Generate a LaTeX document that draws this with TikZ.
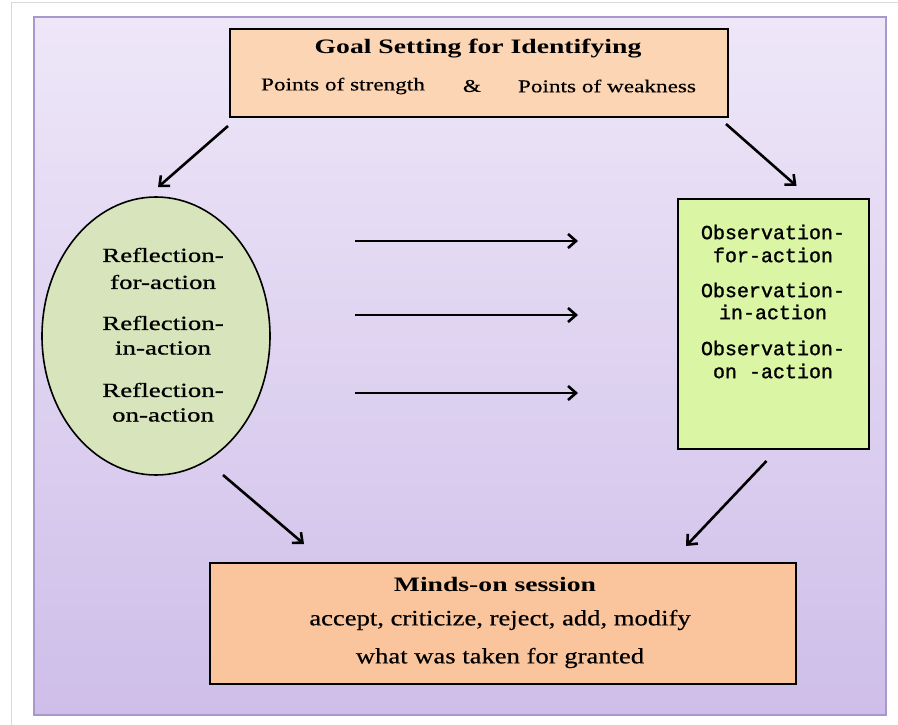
\documentclass[tikz,border=0pt]{standalone}
\usepackage{fontspec}
\setmainfont{Liberation Serif}
\newfontfamily\fTitle[FakeStretch=1.35]{Liberation Serif}
\newfontfamily\fPts[FakeStretch=1.29,FakeBold=0.4]{Liberation Serif}
\newfontfamily\fBody[FakeStretch=1.21,FakeBold=0.4]{Liberation Serif}
\newfontfamily\fRefl[FakeStretch=1.35,FakeBold=0.8]{Liberation Serif}
\newfontfamily\fMono[FakeBold=1.2]{Liberation Mono}
\usetikzlibrary{arrows.meta,shapes.geometric}
\definecolor{lavtop}{HTML}{EEE7F8}
\definecolor{lavbot}{HTML}{CEBEE9}
\definecolor{lavedge}{HTML}{A898CC}
\definecolor{peachA}{HTML}{FCD5B4}
\definecolor{peachB}{HTML}{FAC59D}
\definecolor{sage}{HTML}{D7E4BC}
\definecolor{lime}{HTML}{DAF5A4}
\tikzset{
  boxA/.style={draw=black, line width=2pt, fill=peachA, inner sep=0pt},
  boxB/.style={draw=black, line width=2pt, fill=peachB, inner sep=0pt},
  obsbox/.style={draw=black, line width=2pt, fill=lime, inner sep=0pt},
  reflshape/.style={ellipse, draw=black, line width=1.6pt, fill=sage, inner sep=0pt},
  arr/.style={line width=2.6pt, -{Straight Barb[length=8pt,width=14pt]}},
  ttl/.style={font=\fTitle\bfseries\fontsize{20.5}{24}\selectfont, inner sep=0pt},
  pts/.style={font=\fPts\fontsize{18}{22}\selectfont, inner sep=0pt},
  bod/.style={font=\fBody\fontsize{22}{26}\selectfont, inner sep=0pt},
  rtx/.style={font=\fRefl\fontsize{20}{24}\selectfont, inner sep=0pt},
  mtx/.style={font=\fMono\fontsize{20}{24}\selectfont, inner sep=0pt}
}
\begin{document}
\begin{tikzpicture}[x=1pt,y=-1pt]
\useasboundingbox (0,0) rectangle (898,725);
\fill[white] (0,0) rectangle (898,725);
\draw[black!15, line width=1pt] (11,725) -- (11,3) -- (898,3);
\shade[top color=lavtop, bottom color=lavbot, draw=lavedge, line width=1.2pt] (34,17) rectangle (886,715);

% boxes
\node[boxA, minimum width=498pt, minimum height=88pt] (goal) at (479,73) {};
\node[reflshape, minimum width=228pt, minimum height=278pt] (refl) at (156,336) {};
\node[obsbox, minimum width=191pt, minimum height=250pt] (obs) at (773.5,324) {};
\node[boxB, minimum width=586pt, minimum height=121pt] (minds) at (503,623.5) {};

% top box text
\node[ttl] (g1) at (478,49) {Goal Setting for Identifying};
\node[pts] (g2) at (343,86) {Points of strength};
\node[pts] (g3) at (472,86) {\&};
\node[pts] (g4) at (607,86) {Points of weakness};

% ellipse text
\node[rtx] (r1) at (163,255) {Reflection-};
\node[rtx] (r2) at (163,282) {for-action};
\node[rtx] (r3) at (163,323) {Reflection-};
\node[rtx] (r4) at (163,348) {in-action};
\node[rtx] (r5) at (163,390) {Reflection-};
\node[rtx] (r6) at (163,415) {on-action};

% observation text
\node[mtx] (o1) at (773,232) {Observation-};
\node[mtx] (o2) at (773,255) {for-action};
\node[mtx] (o3) at (773,290) {Observation-};
\node[mtx] (o4) at (773,312) {in-action};
\node[mtx] (o5) at (773,348) {Observation-};
\node[mtx] (o6) at (773,371) {on -action};

% bottom text
\node[ttl] (m1) at (495,584) {Minds-on session};
\node[bod] (m2) at (500,620) {accept, criticize, reject, add, modify};
\node[bod] (m3) at (500,658) {what was taken for granted};

% arrow ends
\coordinate (h1s) at (355,241); \coordinate (h1e) at (578,241);
\coordinate (h2s) at (355,315); \coordinate (h2e) at (578,315);
\coordinate (h3s) at (355,393); \coordinate (h3e) at (578,393);
\coordinate (blS) at (223,475);

\draw[arr] ([xshift=-1pt,yshift=-8pt]goal.south west) -- ([xshift=2pt,yshift=9pt]refl.north);
\draw[arr] ([xshift=-3pt,yshift=-6pt]goal.south east) -- ([xshift=23pt,yshift=12pt]obs.north);
\draw[arr] (h1s) -- (h1e);
\draw[arr] (h2s) -- (h2e);
\draw[arr] (h3s) -- (h3e);
\draw[arr] (blS) -- ([xshift=95pt,yshift=18pt]minds.north west);
\draw[arr] ([xshift=-7pt,yshift=-11pt]obs.south) -- ([xshift=-111pt,yshift=16pt]minds.north east);
\end{tikzpicture}
\end{document}
